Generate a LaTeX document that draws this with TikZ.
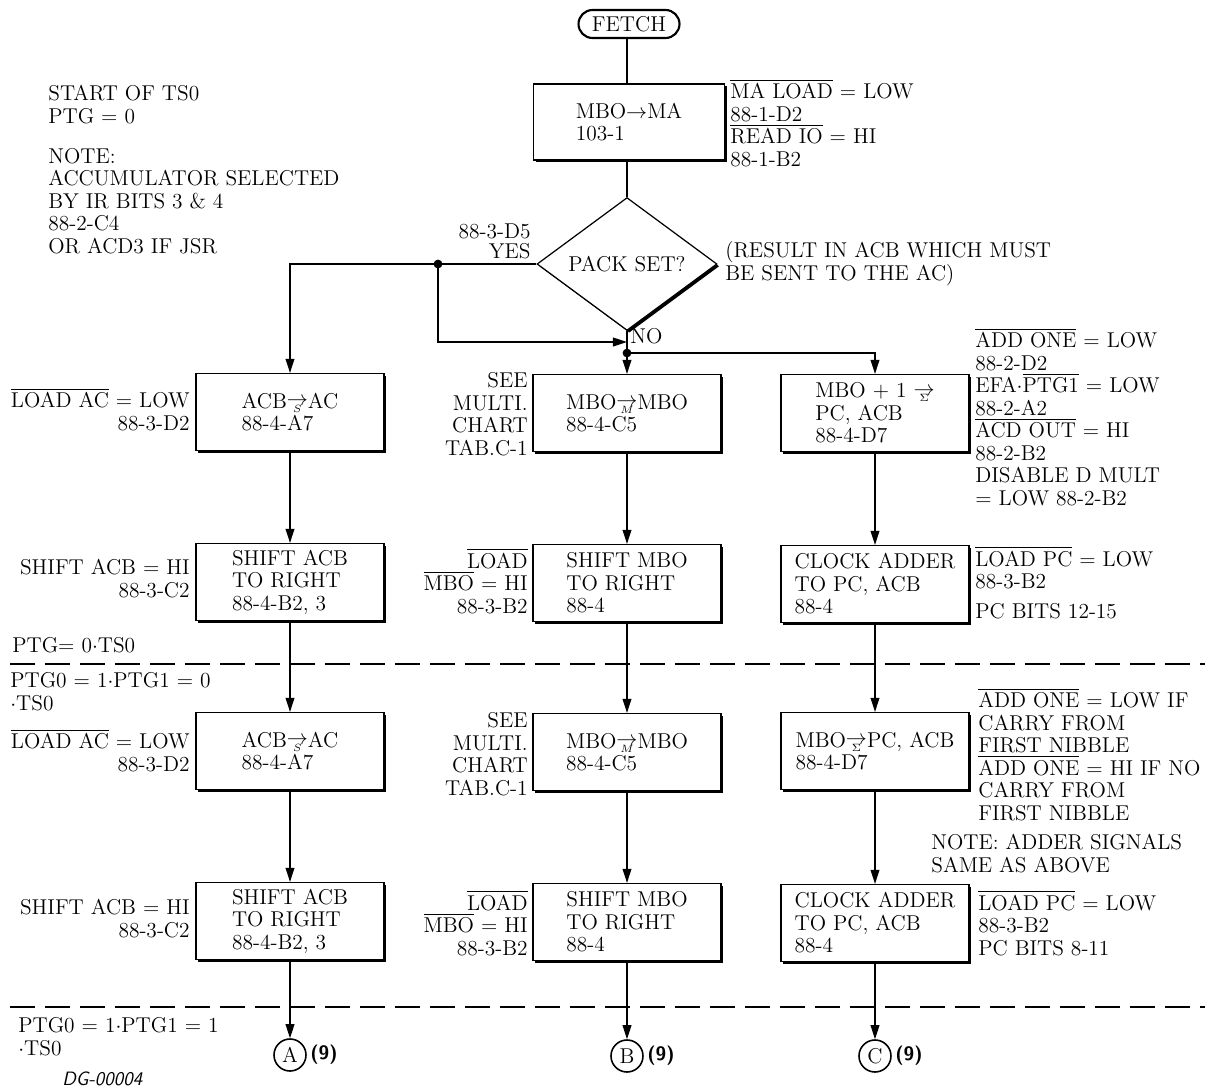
\documentclass[tikz,border=0pt]{standalone}
\usepackage{amsmath}
\usepackage{amssymb}
\usetikzlibrary{arrows.meta,shapes.geometric,shadows}

\newcommand{\negsig}[1]{$\overline{\mbox{#1}}$}
\newcommand{\xfer}[1]{\smash{\ooalign{\raisebox{0.3ex}{$\rightarrow$}\cr
  \hidewidth\raisebox{-0.45ex}{$\scriptscriptstyle #1$}\hidewidth\cr}}}

\begin{document}
\begin{tikzpicture}[x=0.02cm,y=-0.02cm,
  font=\fontsize{12.2}{12.8}\selectfont,
  >={Triangle[length=8pt,width=5pt]},
  flow/.style={line width=0.8pt},
  arr/.style={flow,->},
  stepbox/.style={draw,fill=white,line width=0.7pt,minimum width=3.76cm,
    minimum height=1.54cm,align=left,
    drop shadow={shadow xshift=1.3pt,shadow yshift=-1.3pt,opacity=1,fill=black}},
  lnote/.style={anchor=base east,align=right,inner sep=0pt},
  rnote/.style={anchor=base west,align=left,inner sep=0pt},
  joint/.style={circle,fill,inner sep=0pt,minimum size=5pt},
  conn/.style={circle,draw,line width=0.9pt,minimum size=0.64cm,inner sep=0pt},
  phaseline/.style={line width=0.8pt,dash pattern=on 0.5cm off 0.2cm}]
  \useasboundingbox (0,0) rectangle (1205,1089);

  % Fetch and the pack test
  \node[draw,line width=1.2pt,rounded corners=0.28cm,minimum width=2.02cm,
    minimum height=0.56cm,inner sep=0pt] (fetch) at (629,24) {FETCH};
  \node[stepbox,minimum width=3.82cm,minimum height=1.52cm] (mboma) at (629,122)
    {MBO$\rightarrow$MA\\103-1};
  \node[diamond,draw,fill=white,line width=0.7pt,minimum width=3.6cm,minimum height=2.36cm,
    inner sep=0pt,drop shadow={shadow xshift=1.3pt,shadow yshift=-1.3pt,opacity=1,fill=black}]
    (pack) at (627,264) {PACK SET?};

  % Left column
  \node[stepbox] (ac1) at (290,412) {ACB\xfer{S}AC\\88-4-A7};
  \node[stepbox] (sh1) at (290,582) {SHIFT ACB\\TO RIGHT\\88-4-B2, 3};
  \node[stepbox] (ac2) at (290,751) {ACB\xfer{S}AC\\88-4-A7};
  \node[stepbox] (sh2) at (290,921) {SHIFT ACB\\TO RIGHT\\88-4-B2, 3};
  \node[conn] (outa) at (290,1055) {A};

  % Middle column
  \node[stepbox] (mm1) at (627,413) {MBO\xfer{M}MBO\\88-4-C5};
  \node[stepbox] (smb1) at (627,583) {SHIFT MBO\\TO RIGHT\\88-4};
  \node[stepbox] (mm2) at (627,752) {MBO\xfer{M}MBO\\88-4-C5};
  \node[stepbox] (smb2) at (627,922) {SHIFT MBO\\TO RIGHT\\88-4};
  \node[conn] (outb) at (627,1056) {B};

  % Right column
  \node[stepbox] (sum1) at (875,413) {MBO + 1 \xfer{\Sigma}\\PC, ACB\\88-4-D7};
  \node[stepbox] (clk1) at (875,584) {CLOCK ADDER\\TO PC, ACB\\88-4};
  \node[stepbox] (sum2) at (875,751) {MBO\xfer{\Sigma}PC, ACB\\88-4-D7};
  \node[stepbox] (clk2) at (875,923) {CLOCK ADDER\\TO PC, ACB\\88-4};
  \node[conn] (outc) at (875,1056) {C};

  % Branches
  \coordinate (yesfork) at (438,264);
  \coordinate (nojoin) at (627,342);
  \coordinate (nofork) at (627,353);
  \draw[flow] (fetch.south -| pack.north) -- (mboma.north -| pack.north);
  \draw[flow] (mboma.south -| pack.north) -- (pack.north);
  \draw[arr] (pack.west) -| (ac1);
  \draw[arr] (yesfork) |- (nojoin);
  \draw[flow] (pack.south) -- (nofork);
  \draw[arr] (nofork) -- (mm1);
  \draw[arr] (nofork) -| (sum1);
  \node[joint] (yesdot) at (yesfork) {};
  \node[joint] (nodot) at (nofork) {};
  \foreach \a/\b in {ac1/sh1,sh1/ac2,ac2/sh2,sh2/outa,mm1/smb1,smb1/mm2,mm2/smb2,smb2/outb,
    sum1/clk1,clk1/sum2,sum2/clk2,clk2/outc}
    \draw[arr] (\a) -- (\b);

  % Phase boundaries
  \draw[phaseline] (10,664) -- (1205,664);
  \draw[phaseline] (10,1007) -- (1205,1007);

  % Notes (anchored on the baseline of their last line)
  \node[rnote] (start) at (48,123) {START OF TS0\\PTG = 0};
  \node[rnote] (accsel) at (48,253) {NOTE:\\ACCUMULATOR SELECTED\\BY IR BITS 3 \& 4\\88-2-C4\\OR ACD3 IF JSR};
  \node[rnote] (maload) at (730,166) {\negsig{MA LOAD} = LOW\\88-1-D2\\\negsig{READ IO} = HI\\88-1-B2};
  \node[lnote] (yes) at (531,258) {88-3-D5\\[-1.5pt]YES};
  \node[rnote] (result) at (725,280) {(RESULT IN ACB WHICH MUST\\BE SENT TO THE AC)};
  \node[rnote] (no) at (630,343) {NO};

  \node[lnote] (ldac1) at (190,430) {\negsig{LOAD AC} = LOW\\88-3-D2};
  \node[lnote] (shac1) at (190,597) {SHIFT ACB = HI\\88-3-C2};
  \node[rnote] (ptg) at (12,652) {PTG= 0$\cdot$TS0};
  \node[rnote] (ptga) at (10,710) {PTG0 = 1$\cdot$PTG1 = 0\\$\cdot$TS0};
  \node[lnote] (ldac2) at (190,771) {\negsig{LOAD AC} = LOW\\88-3-D2};
  \node[lnote] (shac2) at (190,937) {SHIFT ACB = HI\\88-3-C2};
  \node[rnote] (ptgb) at (18,1055) {PTG0 = 1$\cdot$PTG1 = 1\\$\cdot$TS0};
  \node[rnote,font=\fontsize{11}{12}\sffamily\itshape] (dg) at (62,1085) {DG-00004};

  \node[lnote] (mult1) at (528,455) {SEE\\MULTI.\\CHART\\TAB.C-1};
  \node[lnote] (ldmbo1) at (528,613) {\negsig{LOAD}\\\negsig{MBO} = HI\\88-3-B2};
  \node[lnote] (mult2) at (528,795) {SEE\\MULTI.\\CHART\\TAB.C-1};
  \node[lnote] (ldmbo2) at (528,955) {\negsig{LOAD}\\\negsig{MBO} = HI\\88-3-B2};

  \node[rnote] (addone1) at (975,505) {\negsig{ADD ONE} = LOW\\88-2-D2\\EFA$\cdot$\negsig{PTG1} = LOW\\88-2-A2\\\negsig{ACD OUT} = HI\\88-2-B2\\DISABLE D MULT\\= LOW 88-2-B2};
  \node[rnote] (ldpc1) at (975,618) {\negsig{LOAD PC} = LOW\\88-3-B2\\[4pt]PC BITS 12-15};
  \node[rnote] (addone2) at (978,820) {\negsig{ADD ONE} = LOW IF\\CARRY FROM\\FIRST NIBBLE\\\negsig{ADD ONE} = HI IF NO\\CARRY FROM\\FIRST NIBBLE};
  \node[rnote] (same) at (931,872) {NOTE: ADDER SIGNALS\\SAME AS ABOVE};
  \node[rnote] (ldpc2) at (978,955) {\negsig{LOAD PC} = LOW\\88-3-B2\\PC BITS 8-11};

  % Off-page references
  \node[anchor=west,inner sep=0pt,font=\fontsize{11}{12}\sffamily\bfseries] (refa) at (outa.east) {\,(9)};
  \node[anchor=west,inner sep=0pt,font=\fontsize{11}{12}\sffamily\bfseries] (refb) at (outb.east) {\,(9)};
  \node[anchor=west,inner sep=0pt,font=\fontsize{11}{12}\sffamily\bfseries] (refc) at (outc.east) {\,(9)};
\end{tikzpicture}
\end{document}
